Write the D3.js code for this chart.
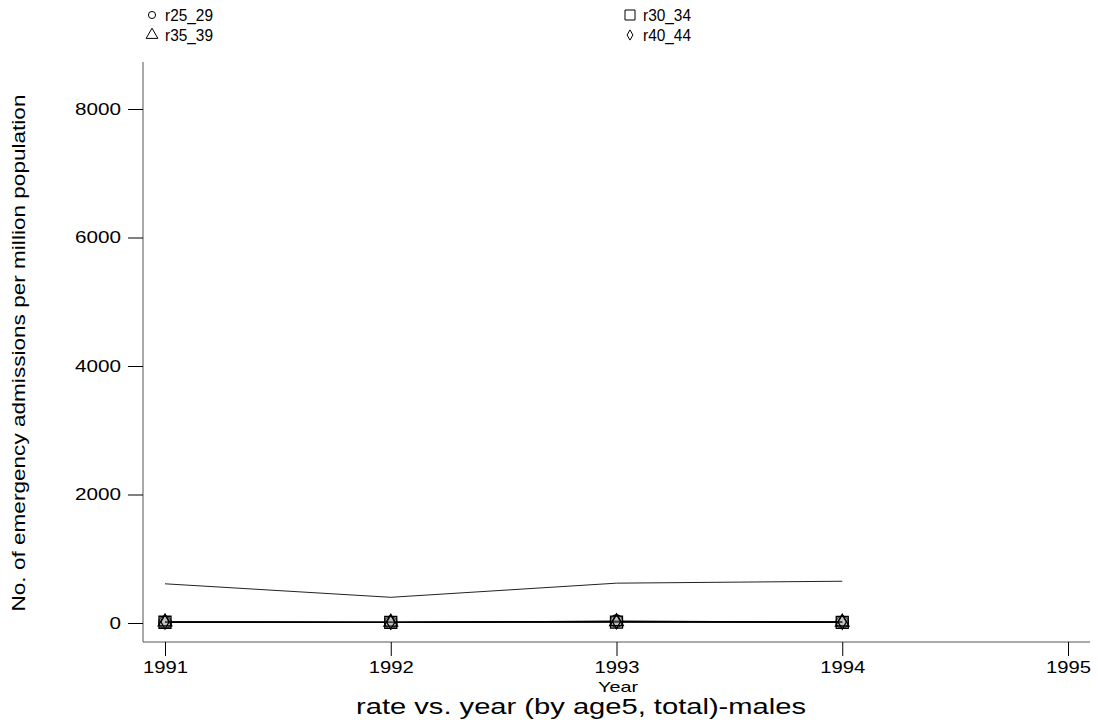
<!DOCTYPE html>
<html><head><meta charset="utf-8">
<script src="https://cdn.jsdelivr.net/npm/d3@7"></script>
<style>body{margin:0;background:#fff}svg{display:block}text{font-family:"Liberation Sans",Arial,sans-serif;fill:#000}</style>
</head><body>
<svg id="c" width="1098" height="725"></svg>
<script>
const years = [1991, 1992, 1993, 1994];
const xTicks = [1991, 1992, 1993, 1994, 1995];
const yTicks = [0, 2000, 4000, 6000, 8000];
const seriesNames = ["r25_29", "r30_34", "r35_39", "r40_44"];
const seriesSymbols = ["circle", "square", "triangle", "diamond"];
const r25_29 = [10, 8, 30, 12];
const r30_34 = [12, 10, 15, 10];
const r35_39 = [15, 12, 20, 14];
const r40_44 = [18, 14, 22, 16];
const total = [610, 400, 620, 650];

const svg = d3.select("#c");
const x = d3.scaleLinear().domain([1991, 1995]).range([165, 1068]);
const y = d3.scaleLinear().domain([0, 8000]).range([623, 109]);
const FONT = "Liberation Sans, Arial, sans-serif";

const axisColor = "#555";
svg.append("line").attr("x1", 143).attr("x2", 143).attr("y1", 62).attr("y2", 642).attr("stroke", axisColor);
svg.append("line").attr("x1", 143).attr("x2", 1090).attr("y1", 642).attr("y2", 642).attr("stroke", axisColor);

// y axis
const gy = svg.append("g").attr("transform", "translate(143,0)")
  .call(d3.axisLeft(y).tickValues(yTicks).tickSize(15).tickPadding(7).tickFormat(d3.format("d")));
gy.select(".domain").remove();
gy.selectAll(".tick line").attr("stroke", "#000");
gy.selectAll(".tick text").attr("font-size", 17).attr("font-family", FONT)
  .attr("textLength", function() { return 11.5 * this.textContent.length; })
  .attr("lengthAdjust", "spacingAndGlyphs");

// x axis
const gx = svg.append("g").attr("transform", "translate(0,642)")
  .call(d3.axisBottom(x).tickValues(xTicks).tickSize(14).tickPadding(5).tickFormat(d3.format("d")));
gx.select(".domain").remove();
gx.selectAll(".tick line").attr("stroke", "#000");
gx.selectAll(".tick text").attr("font-size", 17).attr("font-family", FONT)
  .attr("textLength", 45).attr("lengthAdjust", "spacingAndGlyphs");

// labels
svg.append("text").attr("x", 618).attr("y", 692).attr("text-anchor", "middle").attr("font-size", 15)
  .attr("textLength", 40).attr("lengthAdjust", "spacingAndGlyphs").text("Year");
svg.append("text").attr("x", 581).attr("y", 714).attr("text-anchor", "middle").attr("font-size", 22)
  .attr("textLength", 450).attr("lengthAdjust", "spacingAndGlyphs").text("rate vs. year (by age5, total)-males");
svg.append("text").attr("transform", "translate(25,353) rotate(-90)").attr("text-anchor", "middle").attr("font-size", 18)
  .attr("textLength", 517).attr("lengthAdjust", "spacingAndGlyphs").text("No. of emergency admissions per million population");

// total line (no markers)
const line = d3.line().x((d, i) => x(years[i])).y(d => y(d));
svg.append("path").datum(total).attr("d", line).attr("fill", "none").attr("stroke", "#222").attr("stroke-width", 1);

const data = [r25_29, r30_34, r35_39, r40_44];
const symMap = {circle: d3.symbolCircle, square: d3.symbolSquare, triangle: d3.symbolTriangle, diamond: d3.symbolDiamond};
const symSize = {circle: 120, square: 144, triangle: 80, diamond: 60};

data.forEach(vals => {
  svg.append("path").datum(vals).attr("d", line).attr("fill", "none").attr("stroke", "#000").attr("stroke-width", 1.2);
});
data.forEach((vals, k) => {
  const s = seriesSymbols[k];
  svg.selectAll(null).data(vals).enter().append("path")
    .attr("transform", (d, i) => `translate(${x(years[i])},${y(d)})`)
    .attr("d", d3.symbol().type(symMap[s]).size(symSize[s]))
    .attr("fill", s === "square" ? "#888" : "none").attr("fill-opacity", s === "square" ? 0.5 : 0)
    .attr("stroke", "#000").attr("stroke-width", 1.3);
});

// legend
const legPos = [[152, 15], [630, 15], [152, 35], [630, 35]];
const legSize = {circle: 40, square: 100, triangle: 60, diamond: 30};
seriesNames.forEach((n, k) => {
  const [lx, ly] = legPos[k];
  const s = seriesSymbols[k];
  svg.append("path").attr("transform", `translate(${lx},${ly})`)
    .attr("d", d3.symbol().type(symMap[s]).size(legSize[s]))
    .attr("fill", "none").attr("stroke", "#000").attr("stroke-width", 1);
  svg.append("text").attr("x", lx + 13).attr("y", ly + 6).attr("font-size", 16)
    .attr("textLength", 48).attr("lengthAdjust", "spacingAndGlyphs").text(n);
});
</script>
</body></html>
